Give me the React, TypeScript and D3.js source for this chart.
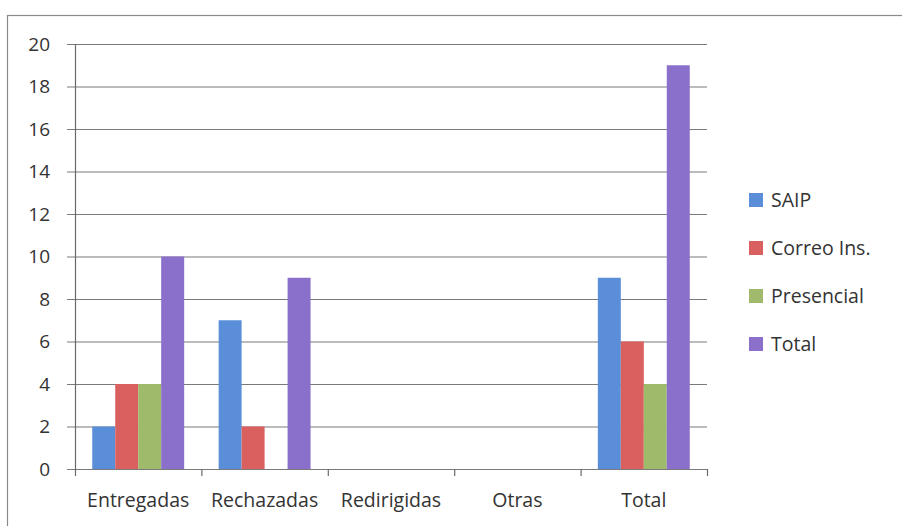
import React, { useEffect, useRef } from "react";
import * as d3 from "d3";

const categories = ["Entregadas", "Rechazadas", "Redirigidas", "Otras", "Total"];
const seriesNames = ["SAIP", "Correo Ins.", "Presencial", "Total"];
const saip = [2, 7, 0, 0, 9];
const correo = [4, 2, 0, 0, 6];
const presencial = [4, 0, 0, 0, 4];
const total = [10, 9, 0, 0, 19];
const yTicks = [0, 2, 4, 6, 8, 10, 12, 14, 16, 18, 20];
const colors = ["#5b8ed8", "#d9605f", "#a0ba6c", "#8b70cb"];

const App = () => {
  const ref = useRef<SVGSVGElement>(null);

  useEffect(() => {
    const W = 902;
    const H = 526;
    const margin = { top: 44, right: 195, bottom: 57, left: 75 };
    const width = W - margin.left - margin.right;
    const height = H - margin.top - margin.bottom;
    const font = "'Open Sans', sans-serif";

    const svg = d3.select(ref.current);
    svg.selectAll("*").remove();

    // outer frame
    svg
      .append("rect")
      .attr("x", 7.5)
      .attr("y", 15.5)
      .attr("width", 900)
      .attr("height", 520)
      .attr("fill", "none")
      .attr("stroke", "#8a8a8a")
      .attr("stroke-width", 1.2);

    const g = svg.append("g").attr("transform", `translate(${margin.left},${margin.top})`);

    const x = d3.scaleBand().domain(categories).range([0, width]);
    const x1 = d3
      .scaleBand()
      .domain(seriesNames)
      .range([0, x.bandwidth()])
      .paddingOuter(0.75)
      .paddingInner(0);
    const y = d3.scaleLinear().domain([0, 20]).range([height, 0]);

    // gridlines
    g.selectAll(".grid")
      .data(yTicks)
      .enter()
      .append("line")
      .attr("x1", -8)
      .attr("x2", width)
      .attr("y1", (d) => y(d) + 0.5)
      .attr("y2", (d) => y(d) + 0.5)
      .attr("stroke", "#7a7a7a")
      .attr("stroke-width", 1.1);

    g.selectAll(".ylab")
      .data(yTicks)
      .enter()
      .append("text")
      .attr("x", -25)
      .attr("y", (d) => y(d))
      .attr("dy", "0.35em")
      .attr("text-anchor", "end")
      .attr("font-family", font)
      .attr("font-size", 19)
      .attr("fill", "#333")
      .text((d) => d);

    // y axis line
    g.append("line")
      .attr("x1", 0.5)
      .attr("x2", 0.5)
      .attr("y1", 0)
      .attr("y2", height)
      .attr("stroke", "#6a6a6a")
      .attr("stroke-width", 1.2);

    // x axis ticks on band boundaries
    const bounds = categories.map((c) => x(c) as number).concat([width]);
    g.selectAll(".xtick")
      .data(bounds)
      .enter()
      .append("line")
      .attr("x1", (d) => d + 0.5)
      .attr("x2", (d) => d + 0.5)
      .attr("y1", height)
      .attr("y2", height + 7)
      .attr("stroke", "#6a6a6a")
      .attr("stroke-width", 1.2);

    const series = [saip, correo, presencial, total];
    series.forEach((vals, si) => {
      const pts = vals.map((v, i) => ({ cat: categories[i], v })).filter((p) => p.v > 0);
      g.selectAll(".bar" + si)
        .data(pts)
        .enter()
        .append("rect")
        .attr("x", (d) => (x(d.cat) as number) + (x1(seriesNames[si]) as number))
        .attr("y", (d) => y(d.v))
        .attr("width", x1.bandwidth())
        .attr("height", (d) => height - y(d.v))
        .attr("fill", colors[si]);
    });

    // x labels
    g.selectAll(".xlab")
      .data(categories)
      .enter()
      .append("text")
      .attr("x", (d) => (x(d) as number) + x.bandwidth() / 2)
      .attr("y", height + 38)
      .attr("text-anchor", "middle")
      .attr("font-family", font)
      .attr("font-size", 19.5)
      .attr("fill", "#333")
      .text((d) => d);

    // legend
    const legend = svg.append("g").attr("transform", "translate(749,200)");
    seriesNames.forEach((name, i) => {
      const row = legend.append("g").attr("transform", `translate(0,${i * 48})`);
      row.append("rect").attr("x", 0).attr("y", -7).attr("width", 14).attr("height", 14).attr("fill", colors[i]);
      row
        .append("text")
        .attr("x", 22)
        .attr("y", 0)
        .attr("dy", "0.35em")
        .attr("font-family", font)
        .attr("font-size", 19.5)
        .attr("fill", "#333")
        .text(name);
    });
  }, []);

  return (
    <svg
      ref={ref}
      width={902}
      height={526}
      style={{ position: "absolute", left: 0, top: 0, background: "#fff" }}
    />
  );
};

export default App;
